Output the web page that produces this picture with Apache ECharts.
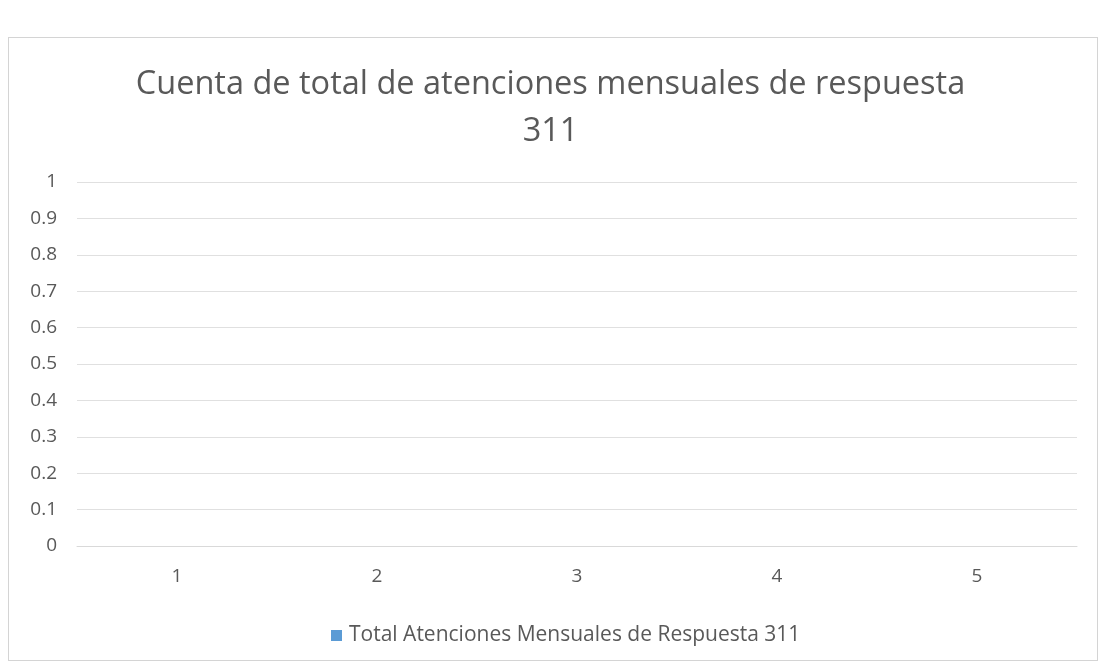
<!DOCTYPE html>
<html>
<head>
<meta charset="utf-8">
<script src="https://cdn.jsdelivr.net/npm/echarts@6/dist/echarts.min.js"></script>
<style>
  html, body { margin: 0; padding: 0; background: #fff; }
  #chart { width: 1101px; height: 665px; }
  #frame {
    position: absolute; left: 8px; top: 37px; width: 1088px; height: 622px;
    border: 1px solid #d4d4d4; pointer-events: none;
  }
</style>
</head>
<body>
<div id="chart"></div>
<div id="frame"></div>
<script>
const categories = ["1", "2", "3", "4", "5"];
const values = [0, 0, 0, 0, 0];
const seriesName = "Total Atenciones Mensuales de Respuesta 311";
const titleText = "Cuenta de total de atenciones mensuales de respuesta\n311";

const chart = echarts.init(document.getElementById("chart"));

chart.setOption({
  animation: false,
  textStyle: { fontFamily: "Open Sans" },
  title: {
    text: titleText,
    left: "center",
    top: 56,
    textStyle: {
      fontFamily: "Open Sans",
      fontSize: 32.5,
      fontWeight: "normal",
      lineHeight: 47,
      color: "#595959",
    },
  },
  legend: {
    left: 326,
    top: 620,
    icon: "rect",
    itemWidth: 11,
    itemHeight: 11,
    itemGap: 6,
    textStyle: { fontSize: 21, color: "#595959", fontFamily: "Open Sans", padding: [0, 0, 0, 2] },
    data: [seriesName],
  },
  grid: {
    left: 77,
    right: 24,
    top: 182,
    bottom: 119,
  },
  xAxis: {
    type: "category",
    data: categories,
    axisLine: { lineStyle: { color: "#d9d9d9" } },
    axisTick: { show: false },
    axisLabel: { fontSize: 19, color: "#595959", margin: 21 },
  },
  yAxis: {
    type: "value",
    min: 0,
    max: 1,
    interval: 0.1,
    axisLine: { show: false },
    axisTick: { show: false },
    axisLabel: {
      fontSize: 19,
      color: "#595959",
      margin: 20,
      formatter: (v) => String(+v.toFixed(1)),
    },
    splitLine: { lineStyle: { color: "#e0e0e0" } },
  },
  series: [
    {
      name: seriesName,
      type: "bar",
      data: values,
      barWidth: "55%",
      itemStyle: { color: "#5b9bd5" },
    },
  ],
});
</script>
</body>
</html>
